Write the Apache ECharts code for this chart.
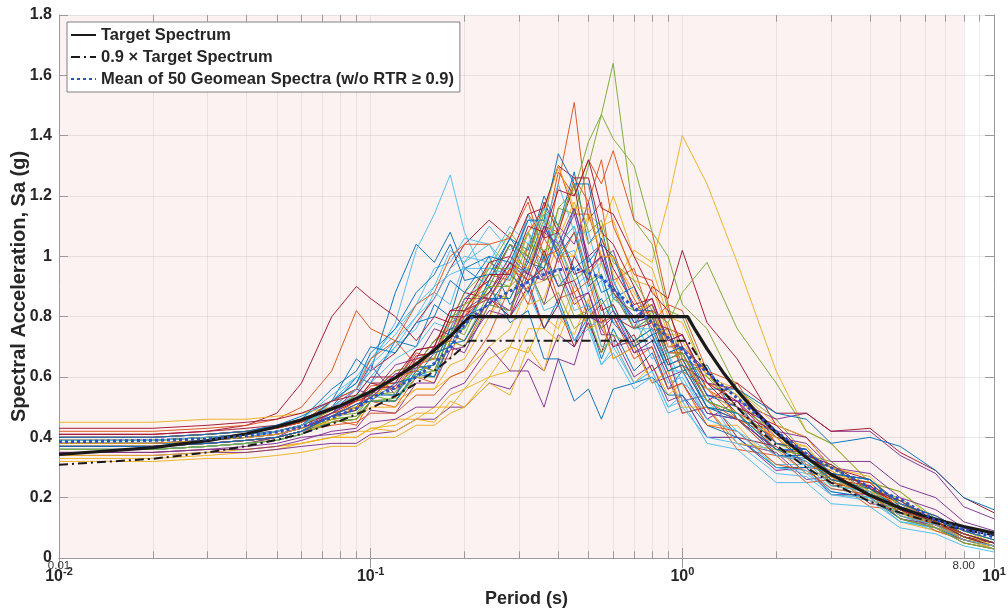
<!DOCTYPE html>
<html>
<head>
<meta charset="utf-8">
<title>Spectra vs target</title>
<script src="https://cdn.jsdelivr.net/npm/echarts@6.0.0/dist/echarts.min.js"></script>
<style>
html,body{margin:0;padding:0;background:#fff;}
#chart{width:1008px;height:615px;}
</style>
</head>
<body>
<div id="chart"></div>
<script>
// periods (s) at which the record spectra were read
var periods = [0.01,0.02,0.03,0.04,0.05,0.06,0.075,0.09,0.1,0.12,0.14,0.16,0.18,0.2,
  0.24,0.28,0.32,0.36,0.4,0.45,0.5,0.55,0.6,0.7,0.8,0.9,1.0,1.2,1.5,2.0,2.5,3.0,4.0,5.0,6.5,8.0,10];

// 50 geomean spectra, Sa in hundredths of g (one row per record)
var spectra = [
  [40,40,41,42,44,47, 52,66,62,88,104,98,108,96, 100,84,92,76,86,72,80,66,76, 62,68,56,62,48,46, 36,32,26,23,16,11,8,5],
  [36,36,37,38,40,42, 46,44,52,50,60,58,72,70, 86,80,104,98,124,151,112,118,92, 96,78,84,66,62,46, 42,30,29,20,17,10,7,4],
  [33,33,34,35,36,38, 40,42,42,46,46,50,50,56, 60,70,68,80,76,90,84,98,90, 102,98,118,140,124,98, 62,42,38,25,22,12,9,5],
  [34,34,35,35,36,37, 38,38,41,42,46,46,50,50, 58,56,66,62,74,70,84,76,70, 72,58,60,48,50,38, 35,26,27,19,17,10,7,4],
  [38,38,39,40,41,43, 47,48,54,52,62,64,76,74, 92,90,108,100,116,122,138,147,164, 112,104,82,80,60,54, 38,34,25,22,15,10,7,4],
  [37,37,38,39,40,42, 50,54,64,78,102,114,127,108, 90,80,88,76,84,72,78,64,70, 58,62,50,54,40,40, 30,28,22,20,13,9,6,3],
  [40,40,41,42,43,45, 49,52,58,56,64,62,74,72, 86,80,90,76,84,70,78,68,80, 76,90,86,102,78,66, 44,40,30,26,18,14,9,6],
  [38,38,39,40,42,44, 50,60,58,72,70,84,80,96, 90,104,94,110,100,116,98,104,86, 90,74,76,62,64,46, 42,30,31,21,19,11,8,5],
  [39,39,40,41,42,44, 49,52,57,58,68,66,80,78, 98,94,114,106,128,120,132,124,135, 112,108,84,82,62,58, 38,36,26,24,16,11,7,4],
  [35,35,36,36,37,38, 40,40,43,42,46,45,52,50, 58,54,70,62,80,74,86,70,72, 58,64,54,58,44,44, 30,30,21,20,12,9,6,3],
  [37,37,38,39,40,42, 48,56,54,64,66,76,74,86, 86,82,100,92,110,104,118,98,102, 82,86,70,70,54,52, 34,34,24,24,15,12,7,5],
  [39,39,40,41,42,44, 48,50,55,54,64,62,74,72, 88,86,100,96,116,114,130,147,139, 130,108,100,84,76,56, 46,34,32,22,20,11,8,5],
  [36,36,37,38,39,41, 48,54,60,70,76,88,84,98, 104,96,114,98,104,90,94,80,84, 68,72,58,60,46,42, 31,31,23,21,14,10,6,4],
  [41,41,42,44,48,58, 80,90,86,80,72,80,78,88, 86,98,88,102,90,92,80,84,70, 74,62,66,52,54,40, 37,28,28,18,17,10,7,5],
  [38,38,38,39,40,42, 45,46,52,52,62,60,76,76, 92,106,102,120,110,128,104,110,92, 78,80,66,68,52,48, 34,34,25,23,16,12,7,5],
  [42,42,43,44,46,50, 62,82,76,72,64,66,66,82, 80,96,84,100,86,88,76,80,66, 70,58,62,48,50,36, 34,25,26,17,16,9,6,4],
  [34,34,35,36,37,38, 40,40,43,44,48,48,54,56, 66,70,84,86,100,100,114,110,112, 92,90,74,74,58,54, 38,37,27,25,16,13,8,5],
  [36,36,37,38,40,44, 52,56,64,54,66,68,70,68, 84,82,96,84,100,86,88,74,74, 60,64,52,54,40,40, 29,30,21,21,13,11,6,4],
  [37,37,38,39,40,42, 46,47,52,52,60,60,72,70, 84,82,96,84,88,76,80,68,74, 70,82,78,88,98,76, 58,42,38,25,22,13,9,6],
  [38,38,39,40,42,44, 52,58,66,74,84,90,102,98, 110,102,108,114,100,102,88,92,78, 80,66,68,52,54,38, 36,28,28,19,18,10,7,4],
  [40,40,41,42,43,45, 50,56,62,68,78,86,96,104, 112,106,120,106,108,94,96,82,84, 70,74,62,64,50,46, 36,34,26,24,16,12,7,5],
  [37,37,38,39,40,42, 47,49,54,54,63,64,76,78, 90,78,82,66,66,52,56,46,56, 58,60,54,54,44,40, 30,30,22,20,13,10,6,4],
  [39,39,40,41,42,44, 48,50,56,56,66,66,78,80, 94,92,108,116,130,114,114,100,100, 86,76,74,62,56,46, 40,31,28,21,17,11,8,5],
  [45,45,46,46,47,48, 50,50,52,52,56,56,60,62, 70,76,90,92,104,100,112,108,120, 100,96,80,78,60,56, 40,37,28,25,17,12,8,5],
  [35,35,36,36,37,39, 42,43,49,48,58,58,69,70, 82,80,94,92,96,84,88,76,80, 68,70,56,58,46,52, 46,48,42,42,34,28,17,13],
  [36,36,37,38,39,41, 46,50,52,60,64,72,78,88, 96,108,100,114,104,110,92,94,82, 72,76,62,64,50,48, 36,34,25,23,14,11,6,4],
  [40,40,41,42,43,46, 54,60,66,76,84,96,98,106, 104,92,108,94,96,82,84,70,72, 58,62,50,52,38,36, 25,25,18,17,10,8,4,2],
  [39,39,40,41,42,44, 48,52,54,62,64,72,76,86, 92,104,100,118,108,124,96,100,88, 76,78,64,66,52,58, 48,48,42,43,35,29,20,15],
  [36,36,37,38,39,41, 45,46,52,52,61,60,71,72, 86,86,98,96,108,96,100,88,90, 76,80,68,70,56,56, 48,46,38,40,37,29,20,16],
  [37,37,38,39,40,42, 44,45,48,48,54,54,60,62, 74,90,96,110,108,126,118,132,110, 94,92,76,74,56,50, 36,34,25,22,15,11,6,4],
  [32,32,33,33,34,35, 37,37,40,40,44,44,48,50, 60,62,76,76,72,86,76,78,66, 70,58,62,50,50,38, 36,28,27,19,17,10,7,3],
  [38,38,39,40,41,43, 48,53,54,61,62,70,72,82, 86,98,94,108,104,116,100,104,90, 78,80,66,68,54,52, 40,38,30,28,20,16,10,8],
  [37,37,38,39,40,42, 46,47,54,55,65,66,80,82, 96,96,108,92,94,80,82,76,86, 82,84,68,68,52,48, 36,34,26,23,15,12,7,4],
  [38,38,39,40,41,43, 52,58,64,72,80,90,94,96, 96,94,96,82,84,72,76,64,68, 56,60,48,50,40,38, 28,27,21,19,12,10,5,3],
  [41,41,42,43,44,46, 50,52,58,58,69,70,82,84, 98,100,114,116,130,126,126,108,104, 90,78,76,64,58,48, 42,33,30,23,18,12,8,5],
  [39,39,40,41,42,44, 52,58,68,76,88,94,104,92, 94,106,98,112,100,108,90,94,82, 72,76,64,66,50,46, 34,33,26,23,16,13,8,5],
  [40,40,41,42,43,45, 52,56,66,72,84,88,100,104, 104,106,118,100,102,88,92,78,80, 66,70,56,58,44,42, 31,29,23,21,14,11,6,4],
  [36,36,37,38,39,41, 46,50,52,60,62,70,72,84, 88,100,96,112,106,118,104,108,94, 82,84,70,72,58,56, 44,40,30,27,17,13,8,5],
  [35,35,36,37,38,40, 41,42,45,46,50,50,56,58, 70,62,62,50,66,64,80,78,82, 68,72,60,62,48,46, 36,35,28,26,17,13,8,5],
  [39,39,40,41,42,44, 49,54,55,62,64,72,74,84, 90,104,100,116,110,124,108,112,98, 92,82,78,66,60,50, 42,34,30,23,19,12,8,5],
  [36,36,37,38,39,41, 52,60,58,66,70,78,76,86, 94,96,112,110,124,108,108,92,92, 76,76,62,62,46,42, 30,29,21,20,12,10,5,3],
  [38,38,39,40,41,43, 47,49,56,57,67,68,80,80, 88,98,92,96,84,100,92,106,96, 84,86,72,74,58,52, 38,36,27,25,16,12,7,4],
  [40,40,41,42,44,46, 56,62,70,68,78,80,92,88, 100,98,112,112,134,124,124,104,100, 82,82,68,70,54,50, 38,36,28,26,17,13,8,5],
  [37,37,38,39,40,42, 47,52,53,60,62,70,72,82, 86,96,92,106,98,108,94,100,88, 80,82,68,68,52,46, 34,32,24,22,13,10,5,3],
  [38,38,39,40,41,43, 45,46,50,50,56,56,64,66, 80,90,108,114,130,116,116,100,100, 88,78,74,64,56,48, 40,33,29,22,18,12,8,4],
  [37,37,38,39,40,42, 47,51,53,61,63,70,73,82, 88,100,94,110,102,114,96,100,88, 80,84,72,74,58,56, 42,40,32,32,24,20,12,9],
  [36,36,37,38,39,41, 45,46,52,53,61,62,74,76, 90,90,104,102,104,92,96,84,88, 76,80,66,68,52,48, 36,34,24,22,13,10,5,3],
  [39,39,40,41,42,44, 50,56,62,70,80,86,96,100, 98,110,104,116,104,110,94,98,86, 80,72,68,58,52,42, 34,32,24,22,14,11,6,4],
  [43,43,44,45,46,48, 52,54,60,60,69,70,82,82, 94,94,110,108,122,120,132,116,114, 100,88,82,70,62,50, 44,34,31,23,19,12,8,5],
  [37,37,38,39,40,42, 47,51,52,58,60,68,70,80, 84,94,88,100,90,96,82,86,78, 70,74,62,64,50,48, 36,36,28,26,18,14,9,6]
];

// mean of the 50 geomean spectra (g), same periods
var meanSa = [0.385,0.39,0.395,0.405,0.418,0.435,0.465,0.495,0.53,0.565,0.60,0.645,0.695,0.775,
  0.845,0.885,0.915,0.94,0.955,0.96,0.945,0.93,0.89,0.83,0.78,0.73,0.69,0.615,0.53,
  0.42,0.345,0.30,0.235,0.195,0.125,0.095,0.07];

// target spectrum (g)
var targetT = [0.01,0.02,0.03,0.04,0.05,0.06,0.08,0.1,0.12,0.14,0.16,0.18,0.208,1.04,1.1,1.2,1.35,1.5,1.75,2,2.5,3,4,5,6,7,8,10];
var targetSa = [0.343,0.366,0.389,0.412,0.435,0.458,0.505,0.551,0.597,0.643,0.689,0.735,0.80,0.80,0.756,0.693,0.616,0.555,0.475,0.416,0.333,0.277,0.208,0.166,0.139,0.119,0.104,0.083];
var target90Sa = [0.309,0.329,0.350,0.371,0.392,0.412,0.455,0.496,0.537,0.579,0.620,0.662,0.72,0.72,0.681,0.624,0.554,0.499,0.428,0.374,0.30,0.25,0.187,0.15,0.125,0.107,0.094,0.075];

var matlabColors = ['#0072BD','#D95319','#EDB120','#7E2F8E','#77AC30','#4DBEEE','#A2142F'];
var FONT = '"Liberation Sans", Arial, Helvetica, sans-serif';
var TXT = '#262626';
var AXIS = '#9a9a9a';

var chart = echarts.init(document.getElementById('chart'));

function zip(xs, ys) {
  return xs.map(function (x, i) { return [x, ys[i]]; });
}

// minor log grid positions 2..9 of each decade
var minorX = [];
[0.01, 0.1, 1].forEach(function (d) {
  for (var m = 2; m <= 9; m++) minorX.push(+(d * m).toPrecision(3));
});

var series = [];

// pink band up to 8 s + minor grid lines
series.push({
  name: 'bg', type: 'line', data: [], silent: true,
  markArea: {
    z: -1, silent: true,
    itemStyle: {color: '#fcf2f2'},
    data: [[{xAxis: 0.01, yAxis: 0}, {xAxis: 8, yAxis: 1.8}]]
  },
  markLine: {
    z: 0, silent: true, symbol: ['none', 'none'], animation: false,
    label: {show: false},
    lineStyle: {color: 'rgba(0,0,0,0.07)', width: 1, type: 'solid'},
    data: minorX.map(function (x) { return {xAxis: x}; })
  }
});

// minor ticks on bottom/top + the 0.01 / 8.00 marks
var tickLines = [];
minorX.forEach(function (x) {
  tickLines.push([{coord: [x, 0]}, {coord: [x, 0.022]}]);
  tickLines.push([{coord: [x, 1.8]}, {coord: [x, 1.778]}]);
});
series.push({
  name: 'ticks', type: 'line', data: [], silent: true,
  markLine: {
    silent: true, symbol: ['none', 'none'], animation: false,
    label: {show: false},
    lineStyle: {color: AXIS, width: 1, type: 'solid'},
    data: tickLines
  },
  markPoint: {
    silent: true, symbol: 'rect', symbolSize: 0, animation: false,
    label: {show: true, position: 'bottom', distance: 2, formatter: '{b}',
      fontFamily: FONT, fontSize: 11.5, color: '#333'},
    data: [{name: '0.01', coord: [0.01, 0]}, {name: '8.00', coord: [8, 0]}]
  }
});

spectra.forEach(function (row, i) {
  series.push({
    name: 'GM' + (i + 1), type: 'line', symbol: 'none', silent: true,
    data: row.map(function (v, k) { return [periods[k], v / 100]; }),
    lineStyle: {width: 1, color: matlabColors[i % 7], opacity: 0.95},
    z: 2
  });
});

series.push({
  name: 'Target Spectrum', type: 'line', symbol: 'none', silent: true,
  data: zip(targetT, targetSa),
  lineStyle: {width: 3.2, color: '#1a1a1a'}, itemStyle: {color: '#1a1a1a'}, z: 3
});
series.push({
  name: '0.9 × Target Spectrum', type: 'line', symbol: 'none', silent: true,
  data: zip(targetT, target90Sa),
  lineStyle: {width: 2, color: '#1a1a1a', type: [9, 4, 2, 4]}, itemStyle: {color: '#1a1a1a'}, z: 4
});
series.push({
  name: 'Mean of 50 Geomean Spectra (w/o RTR ≥ 0.9)', type: 'line', symbol: 'none', silent: true,
  data: zip(periods, meanSa),
  lineStyle: {width: 3, color: '#3050c4', type: [3, 3]}, itemStyle: {color: '#3050c4'}, z: 5
});

var option = {
  animation: false,
  backgroundColor: '#fff',
  grid: {left: 59, right: 14, top: 15, bottom: 57, outerBoundsMode: 'none'},
  legend: {
    data: ['Target Spectrum', '0.9 × Target Spectrum', 'Mean of 50 Geomean Spectra (w/o RTR ≥ 0.9)'],
    orient: 'vertical', left: 67, top: 22,
    itemWidth: 25, itemHeight: 14, itemGap: 4,
    padding: [4, 6, 4, 3],
    borderColor: '#808080', borderWidth: 1, backgroundColor: '#fff',
    itemStyle: {opacity: 0},
    textStyle: {fontFamily: FONT, fontWeight: 'bold', fontSize: 16.5, color: TXT, lineHeight: 18}
  },
  xAxis: [{
    type: 'log', logBase: 10, min: 0.01, max: 10,
    name: 'Period (s)', nameLocation: 'middle', nameGap: 30,
    nameTextStyle: {fontFamily: FONT, fontWeight: 'bold', fontSize: 18, color: TXT},
    axisLine: {lineStyle: {color: AXIS}},
    axisTick: {inside: true, length: 10, lineStyle: {color: AXIS}},
    splitLine: {show: true, lineStyle: {color: 'rgba(0,0,0,0.08)'}},
    axisLabel: {
      margin: 8,
      formatter: function (v) {
        var e = Math.round(Math.log(v) / Math.LN10);
        return '{b|10}{s|' + e + '}';
      },
      rich: {
        b: {fontFamily: FONT, fontWeight: 'bold', fontSize: 16, color: TXT, lineHeight: 22},
        s: {fontFamily: FONT, fontWeight: 'bold', fontSize: 11, color: TXT, lineHeight: 11, verticalAlign: 'top'}
      }
    }
  }, {
    type: 'log', logBase: 10, min: 0.01, max: 10, position: 'top',
    axisLine: {lineStyle: {color: AXIS}},
    axisTick: {inside: true, length: 10, lineStyle: {color: AXIS}},
    axisLabel: {show: false}, splitLine: {show: false}
  }],
  yAxis: [{
    type: 'value', min: 0, max: 1.8, interval: 0.2,
    name: 'Spectral Acceleration, Sa (g)', nameLocation: 'middle', nameGap: 30,
    nameMoveOverlap: false,
    nameTextStyle: {fontFamily: FONT, fontWeight: 'bold', fontSize: 20, color: TXT},
    axisLine: {show: true, lineStyle: {color: AXIS}},
    axisTick: {show: true, inside: true, length: 9, lineStyle: {color: AXIS}},
    splitLine: {show: true, lineStyle: {color: 'rgba(0,0,0,0.08)'}},
    axisLabel: {margin: 7, fontFamily: FONT, fontWeight: 'bold', fontSize: 16, color: TXT}
  }, {
    type: 'value', min: 0, max: 1.8, interval: 0.2, position: 'right',
    axisLine: {show: true, lineStyle: {color: AXIS}},
    axisTick: {show: true, inside: true, length: 9, lineStyle: {color: AXIS}},
    axisLabel: {show: false}, splitLine: {show: false}
  }],
  series: series
};

chart.setOption(option);
</script>
</body>
</html>
